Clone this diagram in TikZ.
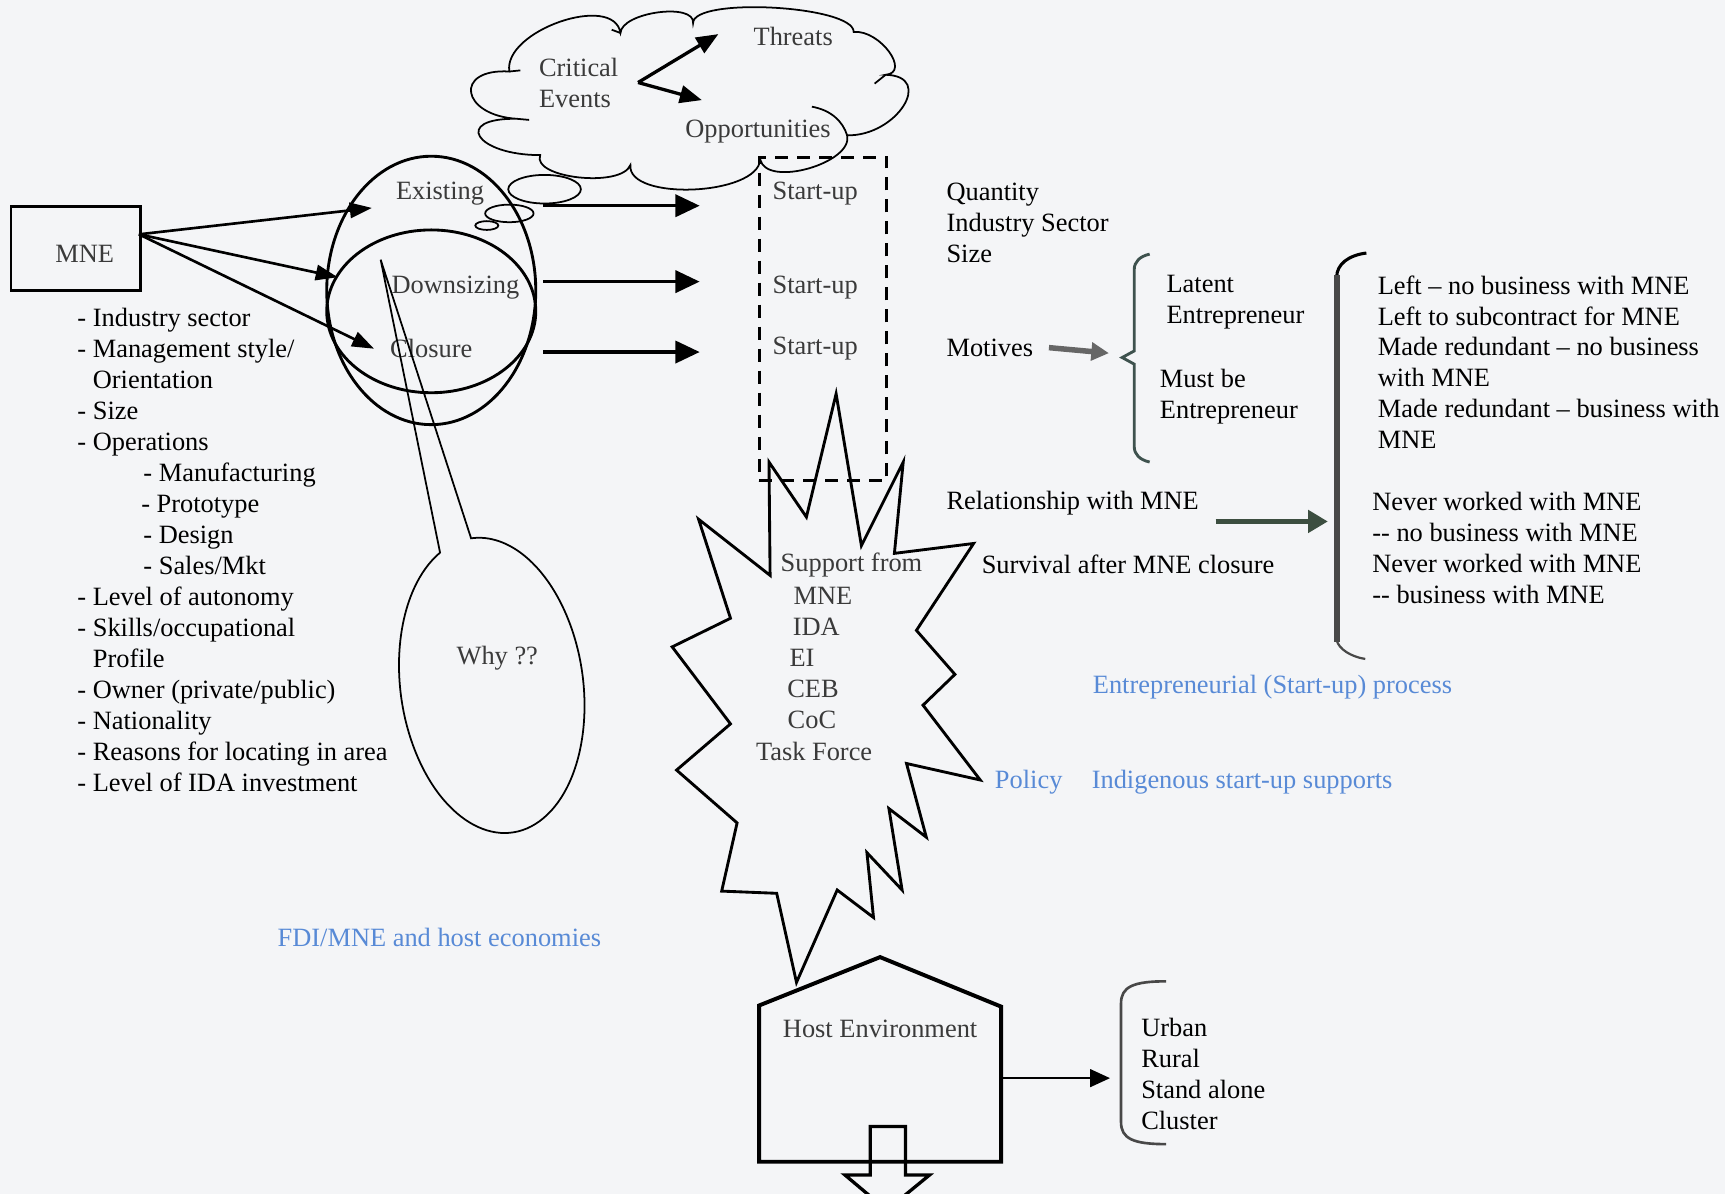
\documentclass[tikz,border=0pt]{standalone}
\usepackage{fontspec}
\setmainfont{Liberation Serif}
\usetikzlibrary{arrows.meta,shapes.geometric}

\definecolor{paper}{RGB}{244,245,247}
\definecolor{ink}{RGB}{58,58,58}
\definecolor{note}{RGB}{88,138,214}
\definecolor{slate}{RGB}{62,82,78}
\definecolor{moss}{RGB}{60,78,64}
\definecolor{steel}{RGB}{72,72,72}

\begin{document}
\begin{tikzpicture}[
        x=0.5pt, y=-0.5pt,
        font=\fontsize{12}{14.07}\selectfont,
        txt/.style={anchor=west, inner sep=0pt},
        lst/.style={anchor=north west, inner sep=0pt, align=left},
        inside/.style={text=ink, inner sep=0pt},
        hint/.style={txt, text=note},
        outline/.style={draw, line width=1.3pt},
        puff/.style={line width=0.8pt},
        fan/.style={line width=1.2pt, -{Triangle[length=10pt,width=7pt]}},
        flow/.style={line width=1.6pt, -{Triangle[length=11pt,width=10pt]}}
    ]
        % Fondo
        \fill[paper] (0,0) rectangle (1568,1085);
        \useasboundingbox (0,0) rectangle (1568,1085);

        % MNE y sus rasgos
        \node[outline, minimum width=59pt, minimum height=38pt] (mne) at (69,226) {};
        \node[inside] (mnetext) at (77,231) {MNE};
        \node[lst] (traits) at (70,280) {- Industry sector\\- Management style/\\\phantom{- }Orientation\\- Size\\- Operations\\\hspace*{30pt}- Manufacturing\\\hspace*{29pt}- Prototype\\\hspace*{30pt}- Design\\\hspace*{30pt}- Sales/Mkt\\- Level of autonomy\\- Skills/occupational\\\phantom{- }Profile\\- Owner (private/public)\\- Nationality\\- Reasons for locating in area\\- Level of IDA investment};

        % Elipses de la empresa
        \node[outline, ellipse, minimum width=95pt, minimum height=122pt] (firm) at (392,264) {};
        \node[outline, ellipse, minimum width=95pt, minimum height=74pt] (shrink) at (392,283) {};
        \node[inside] (exist) at (400,176) {Existing};
        \node[inside] (down) at (414,261) {Downsizing};
        \node[inside] (close) at (392,317) {Closure};

        % Flechas desde MNE
        \coordinate (fork) at ([xshift=-1.5pt,yshift=6.5pt]mne.east);
        \coordinate (toexist) at (338,189);
        \coordinate (todown) at (307,252);
        \coordinate (toclose) at (340,317);
        \draw[fan] (fork) -- (toexist);
        \draw[fan] (fork) -- (todown);
        \draw[fan] (fork) -- (toclose);

        % Burbujas
        \draw[puff] (495,172) ellipse (33 and 13);
        \draw[puff] (463,194) ellipse (22 and 8);
        \draw[puff] (442.5,205) ellipse (10.5 and 4);

        % Nube
        \draw[puff] (463,65) .. controls (457,28) and (558,-7) .. (564,30)
            .. controls (565,11) and (632,2) .. (630,21)
            .. controls (630,-3) and (776,5) .. (776,29)
            .. controls (800,27) and (828,66) .. (805,68)
            .. controls (850,69) and (815,124) .. (770,123)
            .. controls (776,148) and (697,171) .. (691,145)
            .. controls (689,178) and (570,183) .. (573,150)
            .. controls (565,171) and (483,162) .. (491,141)
            .. controls (432,141) and (411,107) .. (470,108)
            .. controls (419,105) and (412,62) .. cycle;
        \draw[puff] (738,97) .. controls (755,100) and (766,110) .. (770,123);
        \draw[puff] (805,68) -- (795,76);
        \draw[puff] (463,65) -- (473,64);
        \draw[puff] (470,108) -- (481,109);
        \draw[puff] (564,30) -- (556,27);
        \node[inside, align=left] (crit) at (526,75) {Critical\\Events};
        \node[inside] (threat) at (721,33) {Threats};
        \node[inside] (opp) at (689,120) {Opportunities};
        \coordinate (split) at (580,75);
        \coordinate (tothreat) at (653,31);
        \coordinate (toopp) at (638,91);
        \draw[line width=1.5pt, -{Triangle[length=10pt,width=8pt]}] (split) -- (tothreat);
        \draw[line width=1.5pt, -{Triangle[length=10pt,width=8pt]}] (split) -- (toopp);

        % Caja de start-ups
        \node[draw, line width=1.4pt, dash pattern=on 6pt off 4pt,
              minimum width=58pt, minimum height=147pt] (pool) at (748,290) {};
        \node[inside] (su1) at (741,176) {Start-up};
        \node[inside] (su2) at (741,261) {Start-up};
        \node[inside] (su3) at (741,317) {Start-up};
        \coordinate (out1) at (494,187);
        \coordinate (out2) at (494,256);
        \coordinate (out3) at (494,320);
        \coordinate (in1) at (636,187);
        \coordinate (in2) at (636,256);
        \coordinate (in3) at (636,320);
        \draw[flow] (out1) -- (in1);
        \draw[flow] (out2) -- (in2);
        \draw[flow] (out3) -- (in3);

        % Estrella de apoyos
        \draw[outline] (760,358) -- (783,496) -- (821,420) -- (813,503) -- (885,494)
            -- (833,573) -- (868,613) -- (839,641) -- (891,709) -- (824,694)
            -- (842,761) -- (808,735) -- (820,809) -- (788,775) -- (794,834)
            -- (761,809) -- (724,893) -- (706,812) -- (656,810) -- (670,748)
            -- (615,700) -- (664,658) -- (611,588) -- (664,562) -- (635,472)
            -- (700,523) -- (699,420) -- (733,470) -- cycle;
        \node[inside] (sup1) at (774,514) {Support from};
        \node[inside] (sup2) at (748,542) {MNE};
        \node[inside] (sup3) at (742,570) {IDA};
        \node[inside] (sup4) at (729,598) {EI};
        \node[inside] (sup5) at (739,626) {CEB};
        \node[inside] (sup6) at (738,654) {CoC};
        \node[inside] (sup7) at (740,683) {Task Force};

        % Globo "Why"
        \coordinate (stem) at (346,236);
        \begin{scope}[shift={(447,623)}, rotate=8]
            \draw[puff] (stem) -- (249:83 and 135)
                arc[start angle=249, end angle=-90, x radius=83, y radius=135] -- (stem);
        \end{scope}
        \node[inside] (why) at (452,598) {Why ??};

        % Casa
        \draw[line width=1.8pt] (690,914) -- (800,870) -- (910,915) -- (910,1056) -- (690,1056) -- cycle;
        \draw[line width=1.5pt] (791,1068) -- (791,1024) -- (823,1024) -- (823,1068)
            -- (845,1068) -- (806,1100) -- (768,1068) -- cycle;
        \node[inside] (host) at (800,935) {Host Environment};
        \coordinate (hr) at (910,980);
        \coordinate (toenv) at (1009,980);
        \draw[line width=1pt, -{Triangle[length=9pt,width=8pt]}] (hr) -- (toenv);
        \draw[line width=1.2pt, steel] (1060,892) .. controls (1030,892) and (1019,897) .. (1019,912)
            -- (1019,1020) .. controls (1019,1035) and (1030,1040) .. (1060,1040);
        \node[lst] (env) at (1037,925) {Urban\\Rural\\Stand alone\\Cluster};

        % Rasgos del start-up
        \node[lst] (size) at (860,166) {Quantity\\Industry Sector\\Size};
        \node[txt] (motive) at (860,316) {Motives};
        \coordinate (tomotive) at (1008,321);
        \draw[line width=2.5pt, gray!80!black, -{Triangle[length=8pt,width=8pt]}] ([xshift=7pt]motive.east) -- (tomotive);
        \draw[slate, line width=1.3pt] (1045,231) .. controls (1036,233) and (1031,238) .. (1031,245)
            -- (1031,319) -- (1020,325) -- (1031,331) -- (1031,406)
            .. controls (1031,413) and (1036,418) .. (1045,420);
        \node[lst] (latent) at (1060,250) {Latent\\Entrepreneur};
        \node[lst] (must) at (1054,335) {Must be\\Entrepreneur};

        \node[txt] (rel) at (860,457) {Relationship with MNE};
        \coordinate (relout) at (1105,474);
        \coordinate (relin) at (1207,474);
        \draw[moss, line width=2.2pt, -{Triangle[length=9pt,width=10pt]}] (relout) -- (relin);
        \node[txt] (surv) at (892,513) {Survival after MNE closure};

        % Corchete grande
        \draw[line width=1.4pt] (1242,230) .. controls (1226,232) and (1215,240) .. (1215,252);
        \draw[steel, line width=2.8pt] (1215,250) -- (1215,584);
        \draw[steel, line width=1pt] (1215,582) .. controls (1217,590) and (1228,597) .. (1241,599);
        \node[lst] (ties) at (1252,250) {Left -- no business with MNE\\Left to subcontract for MNE\\Made redundant -- no business\\with MNE\\Made redundant -- business with\\MNE};
        \node[lst] (never) at (1247,447) {Never worked with MNE\\-{}- no business with MNE\\Never worked with MNE\\-{}- business with MNE};

        % Etiquetas azules
        \node[hint] (proc) at (993,625) {Entrepreneurial (Start-up) process};
        \node[hint] (policy) at (904,711) {Policy};
        \node[hint] (supports) at (992,711) {Indigenous start-up supports};
        \node[hint] (fdi) at (252,852) {FDI/MNE and host economies};

    \end{tikzpicture}
\end{document}
